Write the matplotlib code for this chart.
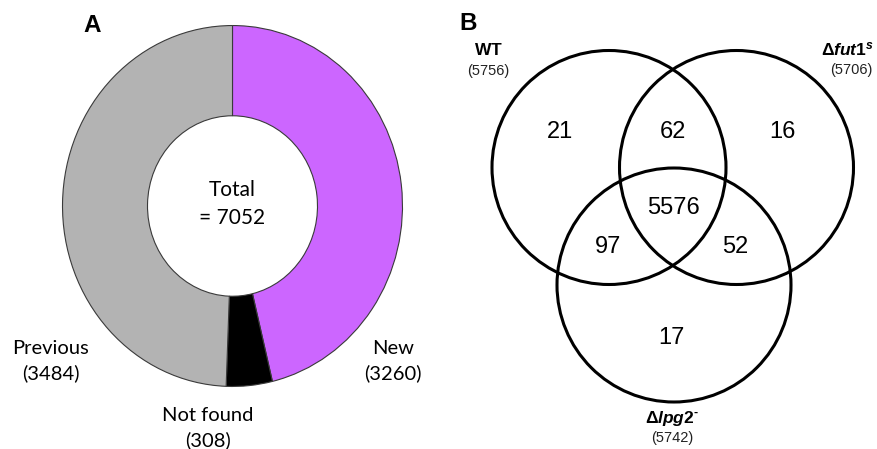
import matplotlib
matplotlib.use("Agg")
import matplotlib.pyplot as plt
from matplotlib.patches import Circle

# Panel A data
pie_labels = ["New", "Not found", "Previous"]
pie_counts = [3260, 308, 3484]
pie_colors = ["#CC66FF", "#000000", "#B3B3B3"]
total = sum(pie_counts)

# Panel B data
set_names = [r"$\mathbf{WT}$", r"$\mathit{Δfut1^{s}}$", r"$\mathit{Δlpg2^{‐}}$"]
set_totals = [5756, 5706, 5742]
region_names = ["WT only", "WT&fut1", "fut1 only", "all", "WT&lpg2", "fut1&lpg2", "lpg2 only"]
region_counts = [21, 62, 16, 5576, 97, 52, 17]

plt.rcParams["mathtext.fontset"] = "custom"
plt.rcParams["mathtext.it"] = "Liberation Sans:italic:bold"
plt.rcParams["mathtext.bf"] = "Liberation Sans:bold"
plt.rcParams["mathtext.rm"] = "Liberation Sans:bold"

W, H = 878, 449
fig = plt.figure(figsize=(W / 100, H / 100), dpi=100)

# overlay axes in pixel coords for text and venn
ov = fig.add_axes([0, 0, 1, 1])
ov.set_xlim(0, W)
ov.set_ylim(H, 0)
ov.axis("off")

# ---- Panel A: donut ----
pa = fig.add_axes([62 / W, 1 - 387 / H, 341 / W, 362 / H])
pa.pie(pie_counts, colors=pie_colors, startangle=90, counterclock=False,
       radius=1, wedgeprops=dict(width=0.5, edgecolor="#3a3a3a", linewidth=0.8))
pa.set_aspect("auto")
pa.set_xlim(-1.003, 1.003)
pa.set_ylim(-1.003, 1.003)
pa.axis("off")

lato = "Lato"
ov.text(232, 204, f"Total\n= {total}", ha="center", va="center", fontsize=15,
        family=lato, linespacing=1.45)
label_pos = {"New": (393, 361), "Not found": (208, 428), "Previous": (51, 361)}
for name, cnt in zip(pie_labels, pie_counts):
    x, y = label_pos[name]
    ov.text(x, y, f"{name}\n({cnt})", ha="center", va="center", fontsize=14.5,
            family=lato, linespacing=1.45)

ov.text(92, 25, "A", ha="center", va="center", fontsize=17.5, fontweight="bold",
        family="Liberation Sans")
ov.text(468, 23, "B", ha="center", va="center", fontsize=17.5, fontweight="bold",
        family="Liberation Sans")

# ---- Panel B: venn ----
centers = [(609, 167.5), (736.5, 167.5), (674, 285)]
r = 117
for c in centers:
    ov.add_patch(Circle(c, r, fill=False, edgecolor="black", linewidth=2.2))

region_pos = [(560, 132), (673, 132), (782, 132), (673, 208), (608, 247), (735, 247), (671, 338)]
for (x, y), cnt in zip(region_pos, region_counts):
    ov.text(x, y, str(cnt), ha="center", va="center", fontsize=17, family="Liberation Sans")

name_pos = [(488, 50), (847, 50), (672, 418)]
total_pos = [(488, 71), (851, 70), (672, 438)]
for (nx, ny), (tx, ty), nm, t in zip(name_pos, total_pos, set_names, set_totals):
    ov.text(nx, ny, nm, ha="center", va="center", fontsize=12.5)
    ov.text(tx, ty, f"({t})", ha="center", va="center", fontsize=10.5,
            family="Liberation Sans", color="#222222")

fig.savefig("out.png", dpi=100)
